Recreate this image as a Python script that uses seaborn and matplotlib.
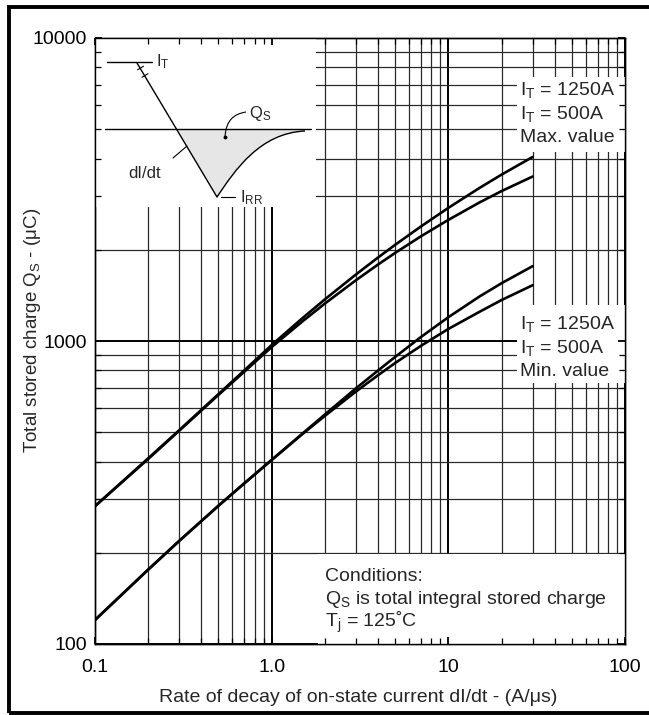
import numpy as np
import pandas as pd
import matplotlib
matplotlib.use("Agg")
import matplotlib.pyplot as plt
import seaborn as sns
from matplotlib.patches import Rectangle, PathPatch
from matplotlib.path import Path
from matplotlib.ticker import FixedLocator, FixedFormatter, LogLocator, NullFormatter

# ---------------- data ----------------
didt = [0.1, 0.2, 0.3, 0.5, 0.7, 1, 1.5, 2, 3, 4, 5, 7, 10, 15, 20, 30]
qs_max_1250 = [285, 410, 508, 668, 800, 970, 1192, 1372, 1658, 1886, 2077, 2388, 2750, 3199, 3540, 4049]
qs_max_500 = [285, 408, 506, 664, 792, 955, 1163, 1329, 1587, 1788, 1953, 2216, 2510, 2865, 3124, 3490]
qs_min_1250 = [120, 176, 219, 286, 339, 405, 496, 572, 698, 799, 886, 1031, 1198, 1402, 1551, 1766]
qs_min_500 = [120, 176, 219, 286, 339, 405, 494, 566, 681, 771, 846, 964, 1096, 1248, 1365, 1528]

x_ticks = [0.1, 1, 10, 100]
x_ticklabels = ["0.1", "1.0", "10", "100"]
y_ticks = [100, 1000, 10000]
y_ticklabels = ["100", "1000", "10000"]

series_names = ["max_1250", "max_500", "min_1250", "min_500"]
series_vals = [qs_max_1250, qs_max_500, qs_min_1250, qs_min_500]

df = pd.concat(
    [pd.DataFrame({"didt": didt, "qs": v, "curve": n}) for n, v in zip(series_names, series_vals)],
    ignore_index=True,
)

# ---------------- style ----------------
sns.set_theme(style="white")
plt.rcParams["font.family"] = ["Liberation Sans", "DejaVu Sans"]
plt.rcParams["mathtext.fontset"] = "custom"
plt.rcParams["mathtext.rm"] = "Liberation Sans"
plt.rcParams["mathtext.it"] = "Liberation Sans:italic"
plt.rcParams["mathtext.bf"] = "Liberation Sans:bold"

W_PX, H_PX = 649, 715
fig = plt.figure(figsize=(W_PX / 100, H_PX / 100), dpi=100)


def fx(px):
    return px / W_PX


def fy(py):
    return 1 - py / H_PX


AX_L, AX_R, AX_T, AX_B = 95, 625, 38, 644
rect = [fx(AX_L), fy(AX_B), (AX_R - AX_L) / W_PX, (AX_B - AX_T) / H_PX]

ax = fig.add_axes(rect)
ax.set_zorder(0)
sns.lineplot(data=df, x="didt", y="qs", hue="curve", palette=["black"] * 4,
             legend=False, ax=ax, linewidth=1.9, estimator=None, sort=True)
for ln in ax.get_lines():
    ln.set_solid_joinstyle("round")
ax.set_xscale("log")
ax.set_yscale("log")
ax.set_xlim(0.1, 100)
ax.set_ylim(100, 10000)
ax.xaxis.set_major_locator(FixedLocator(x_ticks))
ax.xaxis.set_major_formatter(FixedFormatter(x_ticklabels))
ax.yaxis.set_major_locator(FixedLocator(y_ticks))
ax.yaxis.set_major_formatter(FixedFormatter(y_ticklabels))
ax.xaxis.set_minor_locator(LogLocator(base=10, subs=np.arange(2, 10)))
ax.yaxis.set_minor_locator(LogLocator(base=10, subs=np.arange(2, 10)))
ax.xaxis.set_minor_formatter(NullFormatter())
ax.yaxis.set_minor_formatter(NullFormatter())
ax.grid(which="major", color="black", linewidth=1.4)
ax.grid(which="minor", color="#2a2a2a", linewidth=0.9)
ax.tick_params(which="both", length=0, labelsize=14, colors="black")
ax.tick_params(axis="x", pad=11)
ax.tick_params(axis="y", pad=6)
for s in ax.spines.values():
    s.set_color("black")
    s.set_linewidth(1.0)

ax.set_xlabel("Rate of decay of on-state current dI/dt - (A/\u03bcs)", fontsize=14)
ax.set_ylabel("Total stored charge Q$_\\mathrm{S}$ - (\u03bcC)", fontsize=13.5)
ax.xaxis.set_label_coords((358 - AX_L) / (AX_R - AX_L), (AX_B - 689) / (AX_B - AX_T))
ax.yaxis.set_label_coords((43 - AX_L) / (AX_R - AX_L), (AX_B - 330) / (AX_B - AX_T))

# ---------------- white boxes hiding the grid ----------------
def white_box(x0, y0, x1, y1):
    fig.add_artist(Rectangle((fx(x0), fy(y1)), (x1 - x0) / W_PX, (y1 - y0) / H_PX,
                             transform=fig.transFigure, facecolor="white",
                             edgecolor="none", zorder=1))


white_box(517, 77, AX_R, 152)
white_box(517, 305, AX_R, 383)
white_box(318, 554, AX_R, AX_B)

# ---------------- inset schematic ----------------
IN_R, IN_B = 316, 207
ax_in = fig.add_axes([fx(AX_L), fy(IN_B), (IN_R - AX_L) / W_PX, (IN_B - AX_T) / H_PX])
ax_in.set_zorder(1)
ax_in.set_facecolor("white")
ax_in.set_xlim(AX_L, IN_R)
ax_in.set_ylim(IN_B, AX_T)
ax_in.set_xticks([])
ax_in.set_yticks([])
for s in ax_in.spines.values():
    s.set_visible(False)

# shaded recovery charge
x_cross = 137 + (129 - 63) / (134 / 80)
verts = [(x_cross, 129), (217, 197), (235, 170), (260, 133), (305, 131), (305, 129), (x_cross, 129)]
codes = [Path.MOVETO, Path.LINETO, Path.CURVE4, Path.CURVE4, Path.CURVE4, Path.LINETO, Path.CLOSEPOLY]
ax_in.add_patch(PathPatch(Path(verts, codes), facecolor="#e6e6e6", edgecolor="none"))
# waveform
ax_in.plot([107, 152], [62, 62], color="black", lw=1.0)
ax_in.plot([137, 217], [63, 197], color="black", lw=1.0)
ax_in.add_patch(PathPatch(Path([(217, 197), (235, 170), (260, 133), (305, 131)],
                               [Path.MOVETO, Path.CURVE4, Path.CURVE4, Path.CURVE4]),
                          facecolor="none", edgecolor="black", lw=1.0))
ax_in.plot([105, 311], [129, 129], color="black", lw=1.0)
# break marks on the dI/dt line
for (cx, cy) in [(140.5, 68), (145, 75.5)]:
    ax_in.plot([cx - 3, cx + 3], [cy + 1.8, cy - 1.8], color="black", lw=0.8)
# Q_S leader
ax_in.add_patch(PathPatch(Path([(225, 137), (226, 120), (234, 114), (246, 112)],
                               [Path.MOVETO, Path.CURVE4, Path.CURVE4, Path.CURVE4]),
                          facecolor="none", edgecolor="black", lw=0.8))
ax_in.plot([225], [137], marker="o", ms=1.8, color="black")
ax_in.text(249, 118, "Q$_\\mathrm{S}$", fontsize=12, va="baseline", ha="left")
# dI/dt leader
ax_in.plot([173, 187], [158, 146], color="black", lw=0.8)
ax_in.text(128, 178, "dI/dt", fontsize=12, va="baseline", ha="left")
# I_RR
ax_in.plot([221, 235], [197, 197], color="black", lw=0.8)
ax_in.text(240, 202, "I$_\\mathrm{RR}$", fontsize=12, va="baseline", ha="left")
# I_T
ax_in.text(156, 66, "I$_\\mathrm{T}$", fontsize=12, va="baseline", ha="left")

# ---------------- overlay axes for ticks on top of boxes ----------------
ax_t = fig.add_axes(rect)
ax_t.set_zorder(2)
ax_t.patch.set_visible(False)
ax_t.set_xscale("log")
ax_t.set_yscale("log")
ax_t.set_xlim(0.1, 100)
ax_t.set_ylim(100, 10000)
ax_t.xaxis.set_major_locator(FixedLocator(x_ticks))
ax_t.yaxis.set_major_locator(FixedLocator(y_ticks))
ax_t.xaxis.set_minor_locator(LogLocator(base=10, subs=np.arange(2, 10)))
ax_t.yaxis.set_minor_locator(LogLocator(base=10, subs=np.arange(2, 10)))
ax_t.tick_params(which="both", direction="in", top=True, right=True, bottom=True, left=True,
                 labelbottom=False, labelleft=False, color="black")
ax_t.tick_params(which="major", length=5, width=1.3)
ax_t.tick_params(which="minor", length=4, width=0.9)
for s in ax_t.spines.values():
    s.set_color("black")
    s.set_linewidth(1.0)

# ---------------- annotation texts ----------------
FS = 14
fig.text(fx(520), fy(95), "I$_\\mathrm{T}$ = 1250A", fontsize=FS, va="baseline")
fig.text(fx(520), fy(119), "I$_\\mathrm{T}$ = 500A", fontsize=FS, va="baseline")
fig.text(fx(520), fy(142), "Max. value", fontsize=FS, va="baseline")
fig.text(fx(520), fy(329), "I$_\\mathrm{T}$ = 1250A", fontsize=FS, va="baseline")
fig.text(fx(520), fy(353), "I$_\\mathrm{T}$ = 500A", fontsize=FS, va="baseline")
fig.text(fx(520), fy(376), "Min. value", fontsize=FS, va="baseline")
fig.text(fx(325), fy(581), "Conditions:", fontsize=FS, va="baseline")
fig.text(fx(325), fy(604), "Q$_\\mathrm{S}$ is total integral stored charge", fontsize=FS, va="baseline")
fig.text(fx(325), fy(627), "T$_\\mathrm{j}$ = 125\u02daC", fontsize=FS, va="baseline")

# ---------------- outer thick frame ----------------
fig.add_artist(Rectangle((fx(8.5), fy(712.5)), (660 - 8.5) / W_PX, (712.5 - 6.5) / H_PX,
                         transform=fig.transFigure, facecolor="none", edgecolor="black",
                         linewidth=2.8, zorder=5))

fig.savefig("out.png", dpi=100)
